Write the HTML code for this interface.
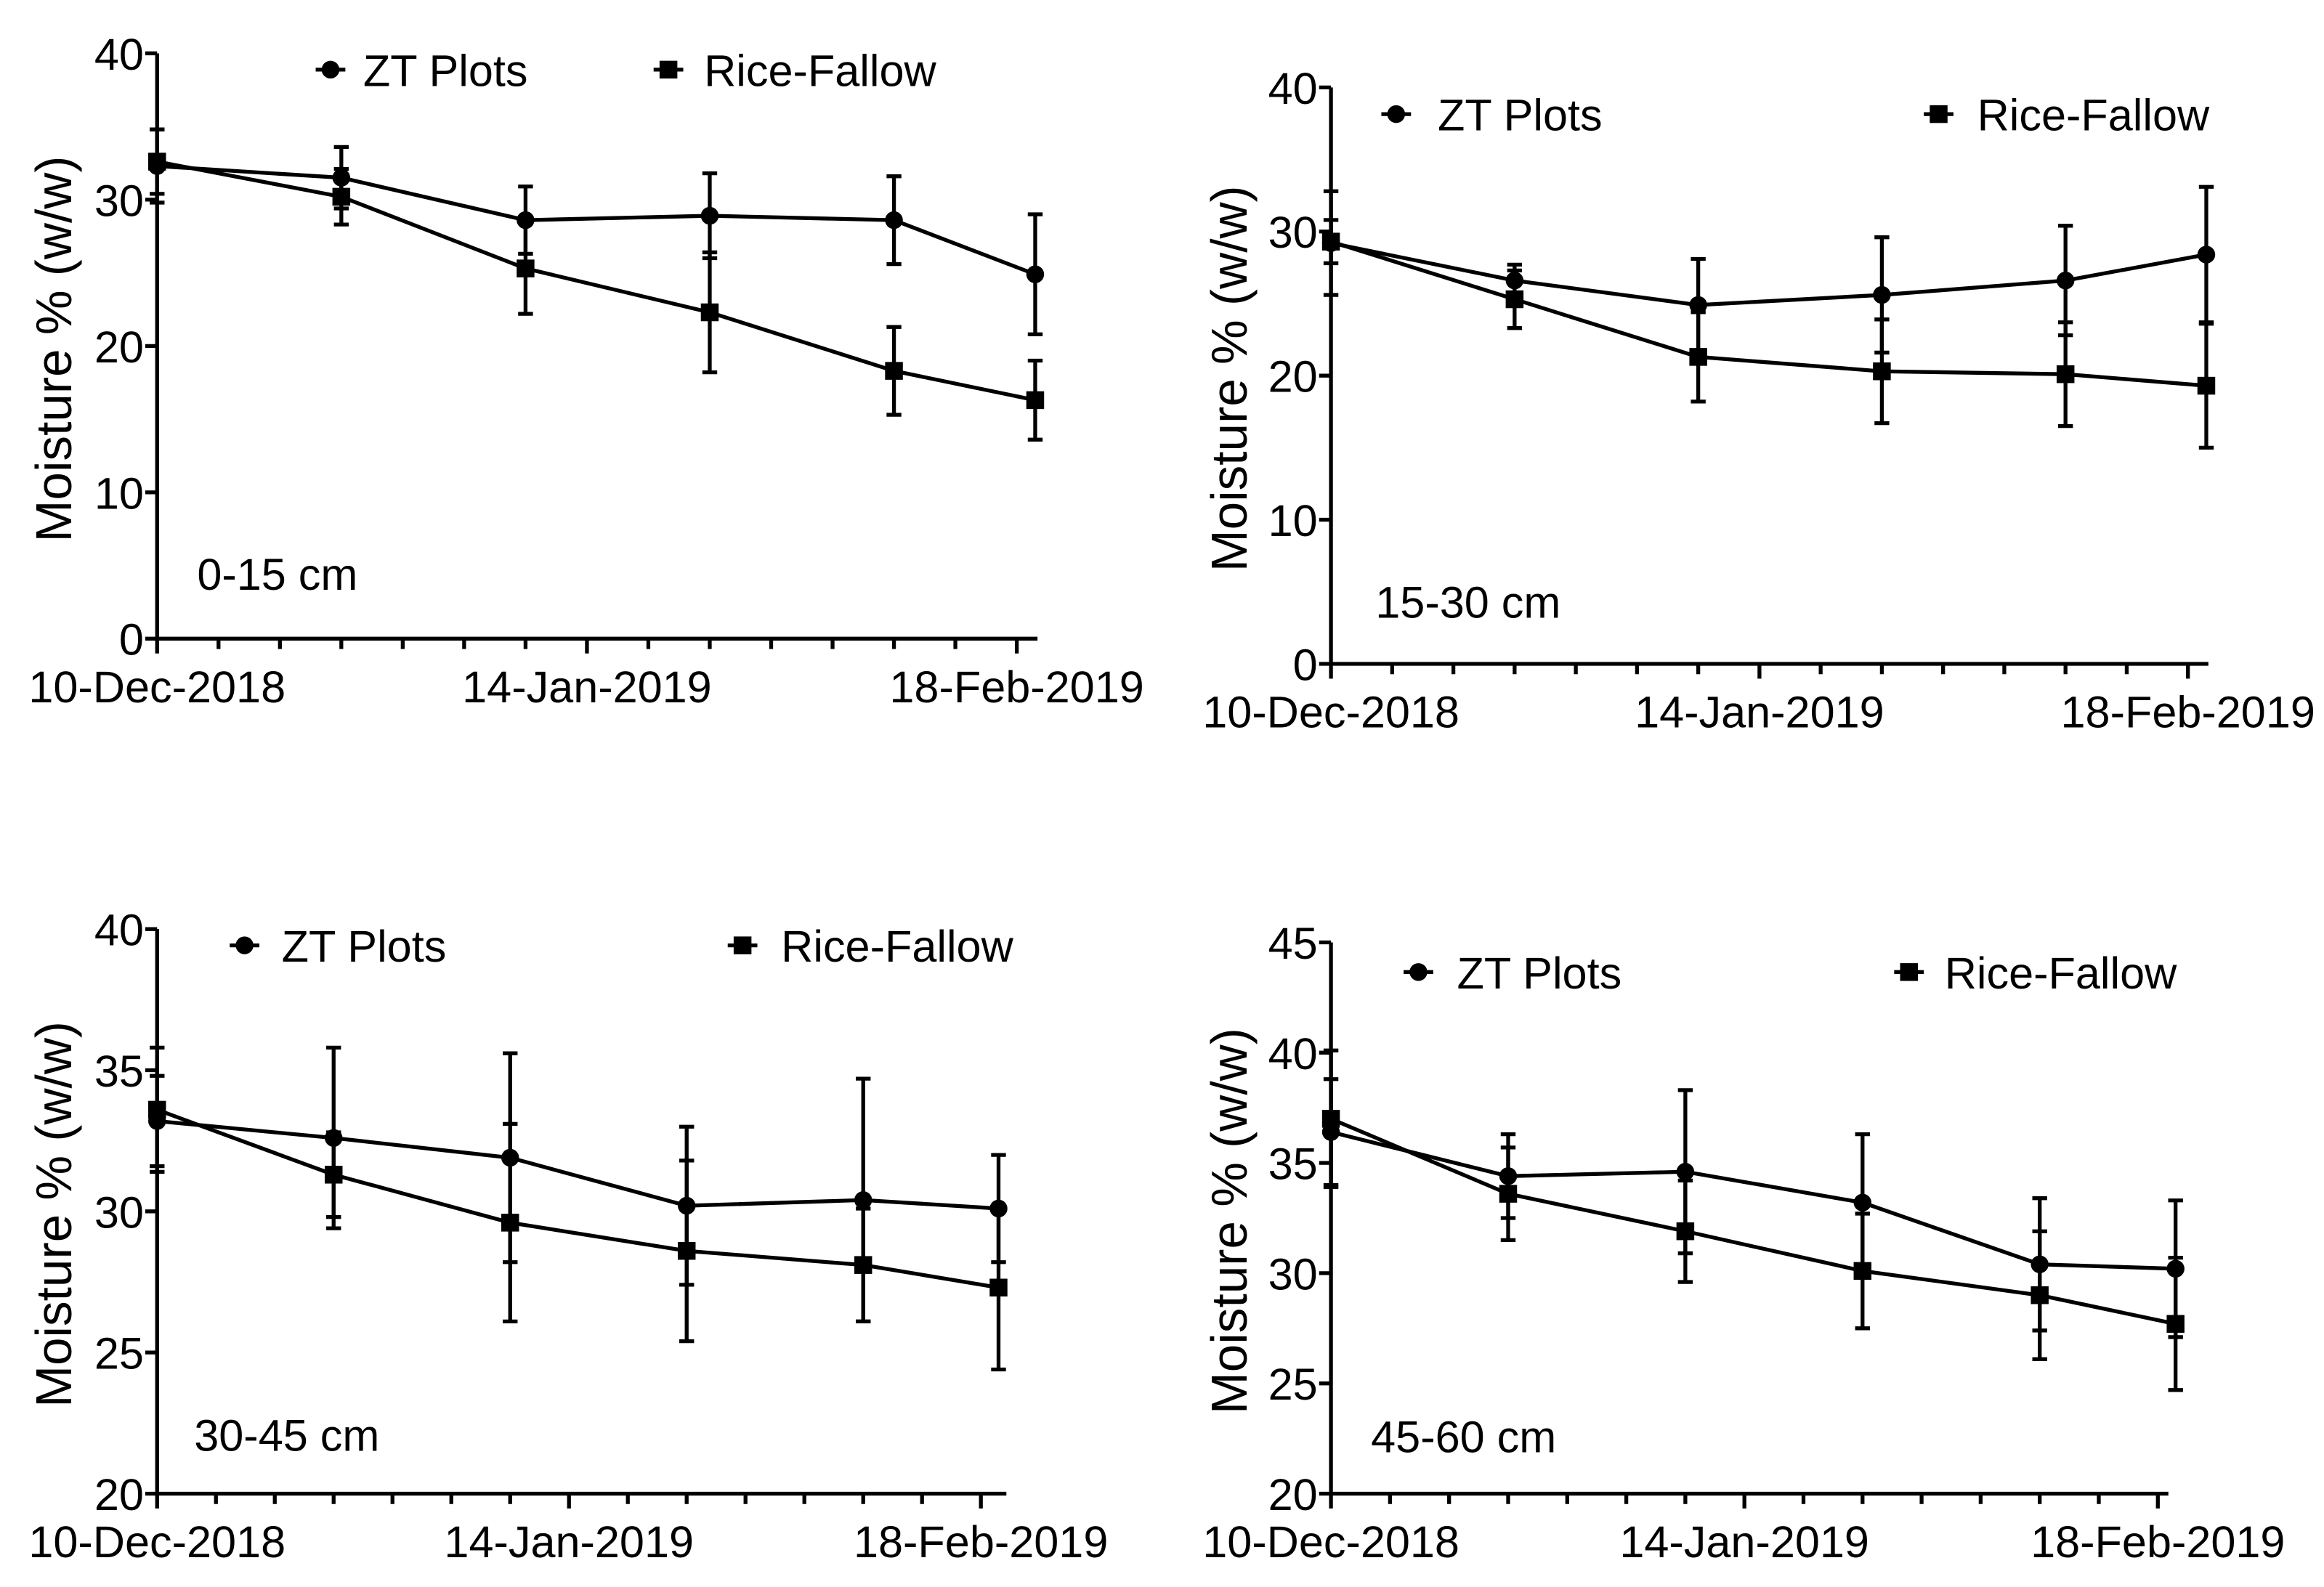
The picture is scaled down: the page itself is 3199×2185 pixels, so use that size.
<!DOCTYPE html>
<html><head><meta charset="utf-8"><style>
html,body{margin:0;padding:0;background:#fff;}
svg{display:block;}
text{font-family:"Liberation Sans",Arial,sans-serif;fill:#000;}
.tick{font-family:"Liberation Sans Narrow","Liberation Sans",sans-serif;font-size:30px;}
.leg{font-size:30px;}
.ttl{font-size:34px;}
</style></head><body>
<svg id="chart" width="3199" height="2185" viewBox="0 0 1568 1071" preserveAspectRatio="none" xmlns="http://www.w3.org/2000/svg"></svg>
<script>
// shared data
const days = [0, 15, 30, 45, 60, 71.5];
const xTickDays = [0, 35, 70];
const xTickLabels = ["10-Dec-2018", "14-Jan-2019", "18-Feb-2019"];
const seriesNames = ["ZT Plots", "Rice-Fallow"];
const depthLabels = ["0-15 cm", "15-30 cm", "30-45 cm", "45-60 cm"];

// panel 1: 0-15 cm
const p1Zt = [32.3, 31.5, 28.6, 28.9, 28.6, 24.9];
const p1ZtErr = [2.5, 2.1, 2.3, 2.9, 3.0, 4.1];
const p1Rf = [32.6, 30.2, 25.3, 22.3, 18.3, 16.3];
const p1RfErr = [2.2, 1.9, 3.1, 4.1, 3.0, 2.7];
const p1YTicks = [0, 10, 20, 30, 40];
// panel 2: 15-30 cm
const p2Zt = [29.2, 26.6, 24.9, 25.6, 26.6, 28.4];
const p2ZtErr = [3.6, 1.1, 3.2, 4.0, 3.8, 4.7];
const p2Rf = [29.3, 25.3, 21.3, 20.3, 20.1, 19.3];
const p2RfErr = [1.5, 2.0, 3.1, 3.6, 3.6, 4.3];
const p2YTicks = [0, 10, 20, 30, 40];
// panel 3: 30-45 cm
const p3Zt = [33.2, 32.6, 31.9, 30.2, 30.4, 30.1];
const p3ZtErr = [1.6, 3.2, 3.7, 2.8, 4.3, 1.9];
const p3Rf = [33.6, 31.3, 29.6, 28.6, 28.1, 27.3];
const p3RfErr = [2.2, 1.5, 3.5, 3.2, 2.0, 2.9];
const p3YTicks = [20, 25, 30, 35, 40];
// panel 4: 45-60 cm
const p4Zt = [36.4, 34.4, 34.6, 33.2, 30.4, 30.2];
const p4ZtErr = [2.4, 1.9, 3.7, 3.1, 3.0, 3.1];
const p4Rf = [37.0, 33.6, 31.9, 30.1, 29.0, 27.7];
const p4RfErr = [3.1, 2.1, 2.3, 2.6, 2.9, 3.0];
const p4YTicks = [20, 25, 30, 35, 40, 45];

const NS = "http://www.w3.org/2000/svg";
const svg = document.getElementById("chart");
function mk(tag, attrs, parent) {
  const e = document.createElementNS(NS, tag);
  for (const k in attrs) e.setAttribute(k, attrs[k]);
  (parent || svg).appendChild(e);
  return e;
}

const panels = [
  {zt:p1Zt, zte:p1ZtErr, rf:p1Rf, rfe:p1RfErr, yt:p1YTicks, x0:106, x1:700, pxDay:8.286, yTop:36, yBot:431, xlab:463, ttlX:48, leg:[223,245,451,475,47], dep:[133,387]},
  {zt:p2Zt, zte:p2ZtErr, rf:p2Rf, rfe:p2RfErr, yt:p2YTicks, x0:898, x1:1490, pxDay:8.26, yTop:59, yBot:448, xlab:480, ttlX:841, leg:[942,970,1308,1334,77], dep:[928,406]},
  {zt:p3Zt, zte:p3ZtErr, rf:p3Rf, rfe:p3RfErr, yt:p3YTicks, x0:106, x1:679, pxDay:7.94, yTop:627, yBot:1008, xlab:1040, ttlX:48, leg:[165,190,501,527,638], dep:[131,968]},
  {zt:p4Zt, zte:p4ZtErr, rf:p4Rf, rfe:p4RfErr, yt:p4YTicks, x0:898, x1:1463, pxDay:7.97, yTop:636, yBot:1008, xlab:1040, ttlX:841, leg:[957,983,1288,1312,656], dep:[925,969]}
];

panels.forEach((p, pi) => {
  const g = mk("g", {});
  
  
  const yMin = p.yt[0], yMax = p.yt[p.yt.length - 1];
  const X = d => p.x0 + d * p.pxDay;
  const Y = v => p.yBot - (v - yMin) / (yMax - yMin) * (p.yBot - p.yTop);
  const st = {stroke:"#000", "stroke-width":2.6, fill:"none"};
  const ya = mk("line", Object.assign({x1:p.x0, y1:p.yTop, x2:p.x0, y2:p.yBot}, st), g);
  
  
  const xa = mk("line", Object.assign({x1:p.x0, y1:p.yBot, x2:p.x1, y2:p.yBot}, st), g);
  
  
  p.yt.forEach(v => {
    mk("line", Object.assign({x1:p.x0 - 8, y1:Y(v), x2:p.x0, y2:Y(v)}, st), g);
    const t = mk("text", {x:p.x0 - 9, y:Y(v) + 11, "text-anchor":"end", class:"tick"}, g);
    t.textContent = v;
    
    
  });
  for (let d = 0; X(d) <= p.x1 + 1; d += 5) {
    const major = xTickDays.indexOf(d) >= 0;
    mk("line", Object.assign({x1:X(d), y1:p.yBot, x2:X(d), y2:p.yBot + (major ? 10 : 7)}, st), g);
  }
  xTickDays.forEach((d, i) => {
    const t = mk("text", {x:X(d), y:p.xlab + 11, "text-anchor":"middle", class:"tick"}, g);
    t.textContent = xTickLabels[i];
    
    
  });
  const cy = (p.yTop + p.yBot) / 2 + 2;
  const tt = mk("text", {x:0, y:0, "text-anchor":"middle", class:"ttl", transform:"translate(" + p.ttlX + " " + cy + ") rotate(-90)"}, g);
  tt.textContent = "Moisture % (w/w)";
  
  
  const dl = mk("text", {x:p.dep[0], y:p.dep[1] + 11, class:"leg"}, g);
  dl.textContent = depthLabels[pi];
  
  

  [[p.zt, p.zte, "circle"], [p.rf, p.rfe, "square"]].forEach(([vals, errs, shape], si) => {
    const sg = mk("g", {}, g);
    
    
    vals.forEach((v, i) => {
      const x = X(days[i]);
      const e = mk("path", Object.assign({d:"M" + x + " " + Y(v + errs[i]) + "V" + Y(v - errs[i]) + "M" + (x - 5) + " " + Y(v + errs[i]) + "h10M" + (x - 5) + " " + Y(v - errs[i]) + "h10"}, st), sg);
      
      
    });
    const ln = mk("polyline", Object.assign({points:vals.map((v, i) => X(days[i]) + "," + Y(v)).join(" ")}, st), sg);
    
    
    vals.forEach((v, i) => {
      const x = X(days[i]), y = Y(v);
      const m = shape === "circle" ? mk("circle", {cx:x, cy:y, r:6, fill:"#000"}, sg) : mk("rect", {x:x - 6, y:y - 6, width:12, height:12, fill:"#000"}, sg);
      
      
    });
    const lx = si ? p.leg[2] : p.leg[0], tx = si ? p.leg[3] : p.leg[1], ly = p.leg[4];
    const lg = mk("g", {}, g);
    
    
    mk("line", Object.assign({x1:lx - 10, y1:ly, x2:lx + 10, y2:ly}, st), lg);
    if (shape === "circle") mk("circle", {cx:lx, cy:ly, r:6, fill:"#000"}, lg);
    else mk("rect", {x:lx - 6, y:ly - 6, width:12, height:12, fill:"#000"}, lg);
    const lt = mk("text", {x:tx, y:ly + 11, class:"leg"}, lg);
    lt.textContent = seriesNames[si];
  });
});
</script>
</body></html>
